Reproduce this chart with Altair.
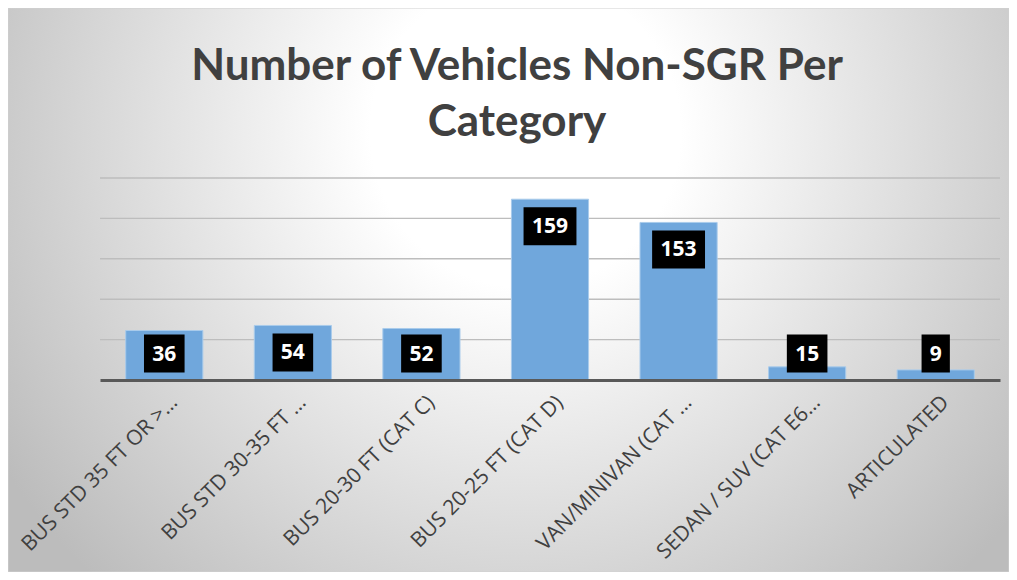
import altair as alt
import pandas as pd

categories = [
    "BUS STD 35 FT OR >…",
    "BUS STD 30-35 FT …",
    "BUS 20-30 FT (CAT C)",
    "BUS 20-25 FT (CAT D)",
    "VAN/MINIVAN (CAT …",
    "SEDAN / SUV (CAT E6…",
    "ARTICULATED",
]
# bar heights as drawn (read against the gridlines, 40 units apart)
bar_heights = [49, 54, 51, 179, 156, 13, 10]
# data-label values printed on the bars
label_values = [36, 54, 52, 159, 153, 15, 9]
grid_values = [40, 80, 120, 160, 200]
title_lines = ["Number of Vehicles Non-SGR Per", "Category"]

df = pd.DataFrame({"category": categories, "height": bar_heights, "label": label_values})
grid_df = pd.DataFrame({"g": grid_values})

x_enc = alt.X(
    "category:N",
    sort=categories,
    scale=alt.Scale(paddingInner=0.4, paddingOuter=0.2),
    axis=alt.Axis(
        title=None,
        labelAngle=-45,
        labelAlign="right",
        labelBaseline="middle",
        labelFont="Open Sans",
        labelFontSize=21,
        labelColor="#404040",
        labelOffset=10,
        labelPadding=19,
        labelLimit=0,
        ticks=False,
        tickSize=0,
        domainColor="#595959",
        domainWidth=3,
        grid=False,
        zindex=1,
    ),
)
y_scale = alt.Scale(domain=[0, 200], nice=False)

bg = alt.Chart(alt.Data(values=[{"a": 1}])).mark_rect(
    clip=False,
    stroke="#d0d0d0",
    strokeWidth=1,
    fill=alt.RadialGradient(
        gradient="radial",
        stops=[
            alt.GradientStop(offset=0, color="#ffffff"),
            alt.GradientStop(offset=0.25, color="#ffffff"),
            alt.GradientStop(offset=1, color="#bcbcbc"),
        ],
        x1=0.517, y1=0.342, r1=0,
        x2=0.517, y2=0.342, r2=0.62,
    ),
).encode(
    x=alt.value(-92), x2=alt.value(909), y=alt.value(-170), y2=alt.value(394)
)

title = alt.Chart(alt.Data(values=[{"a": 1}])).mark_text(
    text=title_lines,
    font="Lato",
    fontSize=44,
    fontWeight="bold",
    color="#404040",
    align="center",
    baseline="alphabetic",
    lineHeight=56,
    clip=False,
).encode(x=alt.value(417), y=alt.value(-98))

grid = alt.Chart(grid_df).mark_rule(color="#bdbdbd", strokeWidth=1.4).encode(
    y=alt.Y("g:Q", scale=y_scale, axis=None),
    x=alt.value(0),
    x2=alt.value(900),
)

base = alt.Chart(df)

bars = base.mark_bar(color="#70a7dc", stroke="#a9cbeb", strokeWidth=1).encode(
    x=x_enc,
    y=alt.Y("height:Q", scale=y_scale, axis=None),
)

lab = base.transform_calculate(
    pos="max(datum.height - 26.7, 26.2)",
    boxw="16 + 12.3 * length(toString(datum.label))",
)

boxes = lab.mark_tick(thickness=38, color="black", opacity=1, orient="horizontal").encode(
    x=alt.X("category:N", sort=categories),
    y=alt.Y("pos:Q", scale=y_scale, axis=None),
    size=alt.Size("boxw:Q", scale=None, legend=None),
)

texts = lab.mark_text(
    font="Open Sans", fontWeight="bold", fontSize=21, color="white",
    align="center", baseline="middle", dy=1,
).encode(
    x=alt.X("category:N", sort=categories),
    y=alt.Y("pos:Q", scale=y_scale, axis=None),
    text=alt.Text("label:Q"),
)

chart = alt.layer(bg, title, grid, bars, boxes, texts).properties(
    width=900,
    height=202,
    autosize=alt.AutoSizeParams(type="none"),
    padding={"left": 92, "top": 170, "right": 9, "bottom": 192},
).configure_view(stroke=None)

chart.save("out.html", embed_options={"renderer": "svg", "actions": False})
